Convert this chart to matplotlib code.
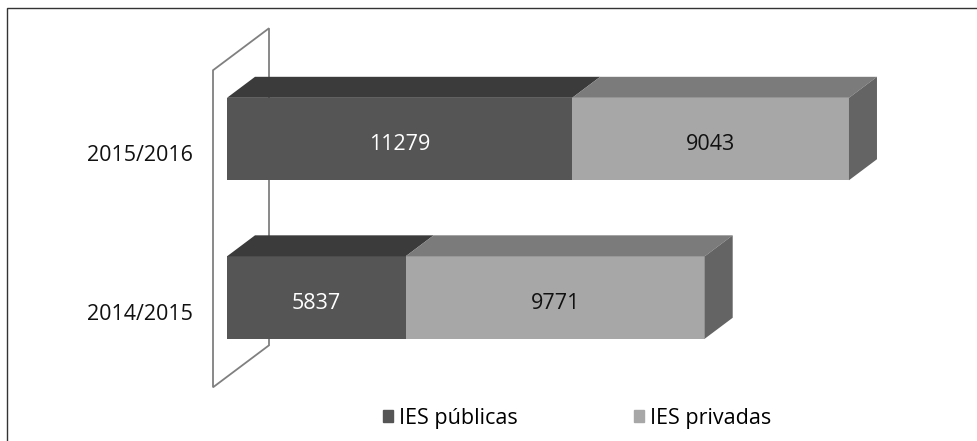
import matplotlib.pyplot as plt
from matplotlib.patches import Polygon, Rectangle, Patch

plt.rcParams['font.family'] = ['Open Sans', 'DejaVu Sans']

# data
years = ['2014/2015', '2015/2016']
publicas = [5837, 11279]
privadas = [9771, 9043]
series_names = ['IES públicas', 'IES privadas']

front_cols = ['#555555', '#a7a7a7']
top_cols = ['#3b3b3b', '#7b7b7b']
side_col = '#646464'
fs = 15.5

W, H = 977, 441
fig = plt.figure(figsize=(W / 100, H / 100), dpi=100)
ax = fig.add_axes([0, 0, 1, 1])
xmin, xmax = -7417, 24505
ymin, ymax = -0.905, 1.877
ax.set_xlim(xmin, xmax)
ax.set_ylim(ymin, ymax)
ax.axis('off')

# depth of the 3d bars (28 x 21 px) in data units
dx = 28 * (xmax - xmin) / W
dy = 21 * (ymax - ymin) / H
h = 0.52

# back wall behind the bars
wall = Polygon([(-0.5 * dx, -0.5 - 0.5 * dy), (-0.5 * dx, 1.5 - 0.5 * dy),
                (1.5 * dx, 1.5 + 1.5 * dy), (1.5 * dx, -0.5 + 1.5 * dy)],
               closed=True, fc='white', ec='#808080', lw=1.3, zorder=1)
ax.add_patch(wall)

ypos = list(range(len(years)))
ax.barh(ypos, publicas, height=h, color=front_cols[0], zorder=3)
ax.barh(ypos, privadas, left=publicas, height=h, color=front_cols[1], zorder=3)

for i, y in enumerate(ypos):
    segs = [(0, publicas[i]), (publicas[i], publicas[i] + privadas[i])]
    top = y + h / 2
    for j, (a, b) in enumerate(segs):
        ax.add_patch(Polygon([(a, top), (a + dx, top + dy), (b + dx, top + dy), (b, top)],
                             closed=True, fc=top_cols[j], ec='none', zorder=3))
    end = segs[-1][1]
    ax.add_patch(Polygon([(end, top), (end + dx, top + dy), (end + dx, top - h + dy), (end, top - h)],
                         closed=True, fc=side_col, ec='none', zorder=3))
    ax.annotate(str(publicas[i]), xy=(publicas[i] / 2, y), xytext=(0, -3), textcoords='offset pixels',
                ha='center', va='center_baseline', color='white', fontsize=fs, zorder=4)
    ax.annotate(str(privadas[i]), xy=(publicas[i] + privadas[i] / 2, y), xytext=(0, -3),
                textcoords='offset pixels', ha='center', va='center_baseline',
                color='#111111', fontsize=fs, zorder=4)
    ax.annotate(years[i], xy=(0, y), xytext=(-34, -14), textcoords='offset pixels',
                ha='right', va='center_baseline', fontsize=fs, color='#111111')

handles = [Patch(color=front_cols[0]), Patch(color=front_cols[1])]
fig.legend(handles, series_names, loc='center', bbox_to_anchor=(0.5905, 0.052), ncol=2,
           frameon=False, handlelength=0.46, handleheight=0.46, handletextpad=0.28,
           columnspacing=5.4, fontsize=fs, borderpad=0)

# outer frame (only left and top edges visible)
fig.patches.append(Rectangle((7 / W, -0.2), 1.5, 1 - 8 / H + 0.2, transform=fig.transFigure,
                             fill=False, ec='#333333', lw=1.0))

fig.savefig('out.png', dpi=100)
